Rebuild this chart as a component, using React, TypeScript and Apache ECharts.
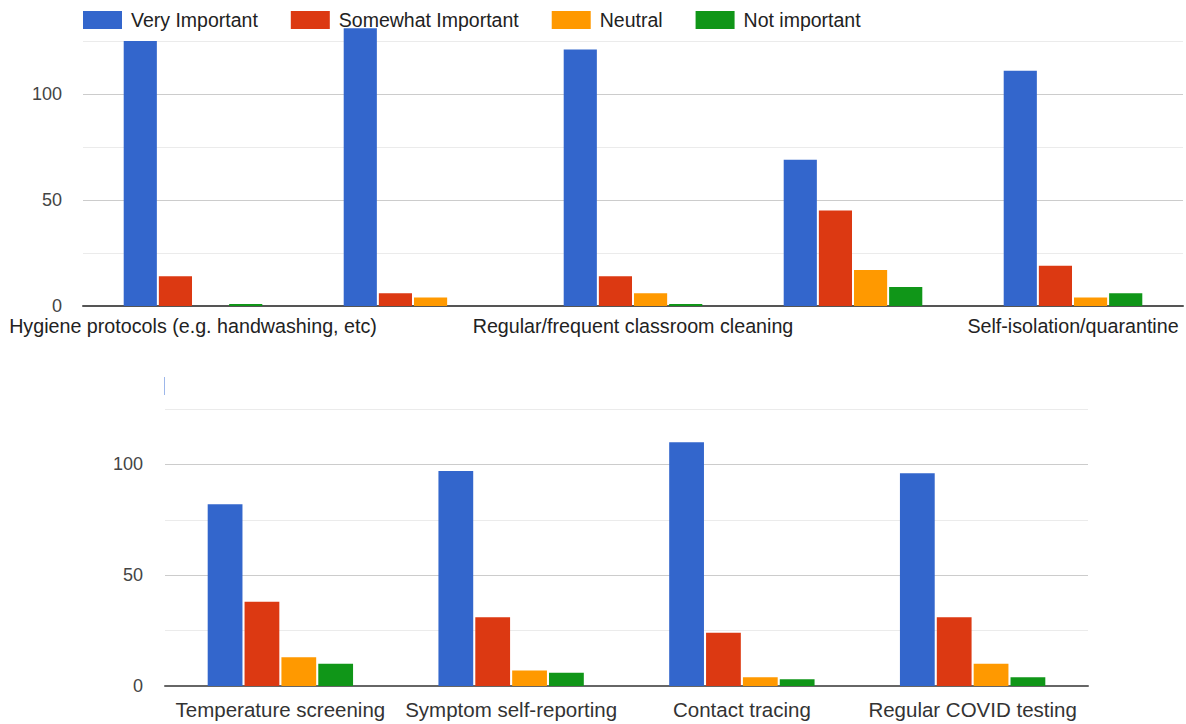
import React, { useEffect, useRef } from "react";
import * as echarts from "echarts";

const seriesNames = ["Very Important", "Somewhat Important", "Neutral", "Not important"];
const seriesColors = ["#3366cc", "#dc3912", "#ff9900", "#109618"];

const topCategories = [
  "Hygiene protocols (e.g. handwashing, etc)",
  "Physical distancing",
  "Regular/frequent classroom cleaning",
  "Face masks/coverings",
  "Self-isolation/quarantine",
];
const topVeryImportant = [125, 131, 121, 69, 111];
const topSomewhatImportant = [14, 6, 14, 45, 19];
const topNeutral = [0, 4, 6, 17, 4];
const topNotImportant = [1, 0, 1, 9, 6];

const bottomCategories = [
  "Temperature screening",
  "Symptom self-reporting",
  "Contact tracing",
  "Regular COVID testing",
];
const bottomVeryImportant = [82, 97, 110, 96];
const bottomSomewhatImportant = [38, 31, 24, 31];
const bottomNeutral = [13, 7, 4, 10];
const bottomNotImportant = [10, 6, 3, 4];

const yTicks = { min: 0, max: 125, interval: 25, labelEvery: 50 };

const FONT = "'Liberation Sans', Arial, sans-serif";

export default function App() {
  const ref = useRef<HTMLDivElement>(null);

  useEffect(() => {
    if (!ref.current) return;
    const chart = echarts.init(ref.current, null, { renderer: "svg" });

    const topData = [topVeryImportant, topSomewhatImportant, topNeutral, topNotImportant];
    const bottomData = [bottomVeryImportant, bottomSomewhatImportant, bottomNeutral, bottomNotImportant];

    const makeSeries = (data: number[][], idx: number) =>
      data.map((vals, i) => ({
        type: "bar",
        name: seriesNames[i],
        xAxisIndex: idx,
        yAxisIndex: idx,
        data: vals,
        barGap: "6%",
        barCategoryGap: "37%",
        clip: false,
        itemStyle: { color: seriesColors[i] },
        emphasis: { disabled: true },
      }));

    const yAxisBase = (gridIndex: number, margin: number) => ({
      type: "value",
      gridIndex,
      min: yTicks.min,
      max: yTicks.max,
      interval: yTicks.interval,
      axisLine: { show: false },
      axisTick: { show: false },
      axisLabel: {
        margin,
        color: "#444",
        fontSize: 18,
        fontFamily: FONT,
        formatter: (v: number) => (v % yTicks.labelEvery === 0 ? String(v) : ""),
      },
      splitLine: { lineStyle: { color: ["#cccccc", "#ebebeb"], width: 1 } },
    });

    chart.setOption({
      animation: false,
      backgroundColor: "#ffffff",
      textStyle: { fontFamily: FONT },
      legend: {
        data: seriesNames,
        left: 83,
        top: 10,
        padding: 0,
        icon: "rect",
        itemWidth: 39,
        itemHeight: 18,
        itemGap: 33,
        selectedMode: false,
        textStyle: { fontSize: 19.5, color: "#222", fontFamily: FONT, padding: [0, 0, 0, 4] },
      },
      grid: [
        { left: 83, top: 41, width: 1100, height: 265 },
        { left: 165, top: 409, width: 923, height: 277 },
      ],
      xAxis: [
        {
          type: "category",
          gridIndex: 0,
          data: topCategories,
          axisTick: { show: false },
          axisLine: { lineStyle: { color: "#555", width: 2 } },
          axisLabel: { interval: 1, margin: 10, fontSize: 19.7, color: "#222", fontFamily: FONT },
        },
        {
          type: "category",
          gridIndex: 1,
          data: bottomCategories,
          axisTick: { show: false },
          axisLine: { lineStyle: { color: "#666", width: 2 } },
          axisLabel: { interval: 0, margin: 13, fontSize: 20.5, color: "#333", fontFamily: FONT },
        },
      ],
      yAxis: [yAxisBase(0, 21), yAxisBase(1, 22)],
      series: [...makeSeries(topData, 0), ...makeSeries(bottomData, 1)],
      graphic: [
        {
          type: "line",
          shape: { x1: 164.5, y1: 377, x2: 164.5, y2: 395 },
          style: { stroke: "#9db7ea", lineWidth: 1 },
        },
      ],
    });

    return () => chart.dispose();
  }, []);

  return (
    <div
      ref={ref}
      style={{ position: "fixed", left: 0, top: 0, width: 1186, height: 724, background: "#fff" }}
    />
  );
}
